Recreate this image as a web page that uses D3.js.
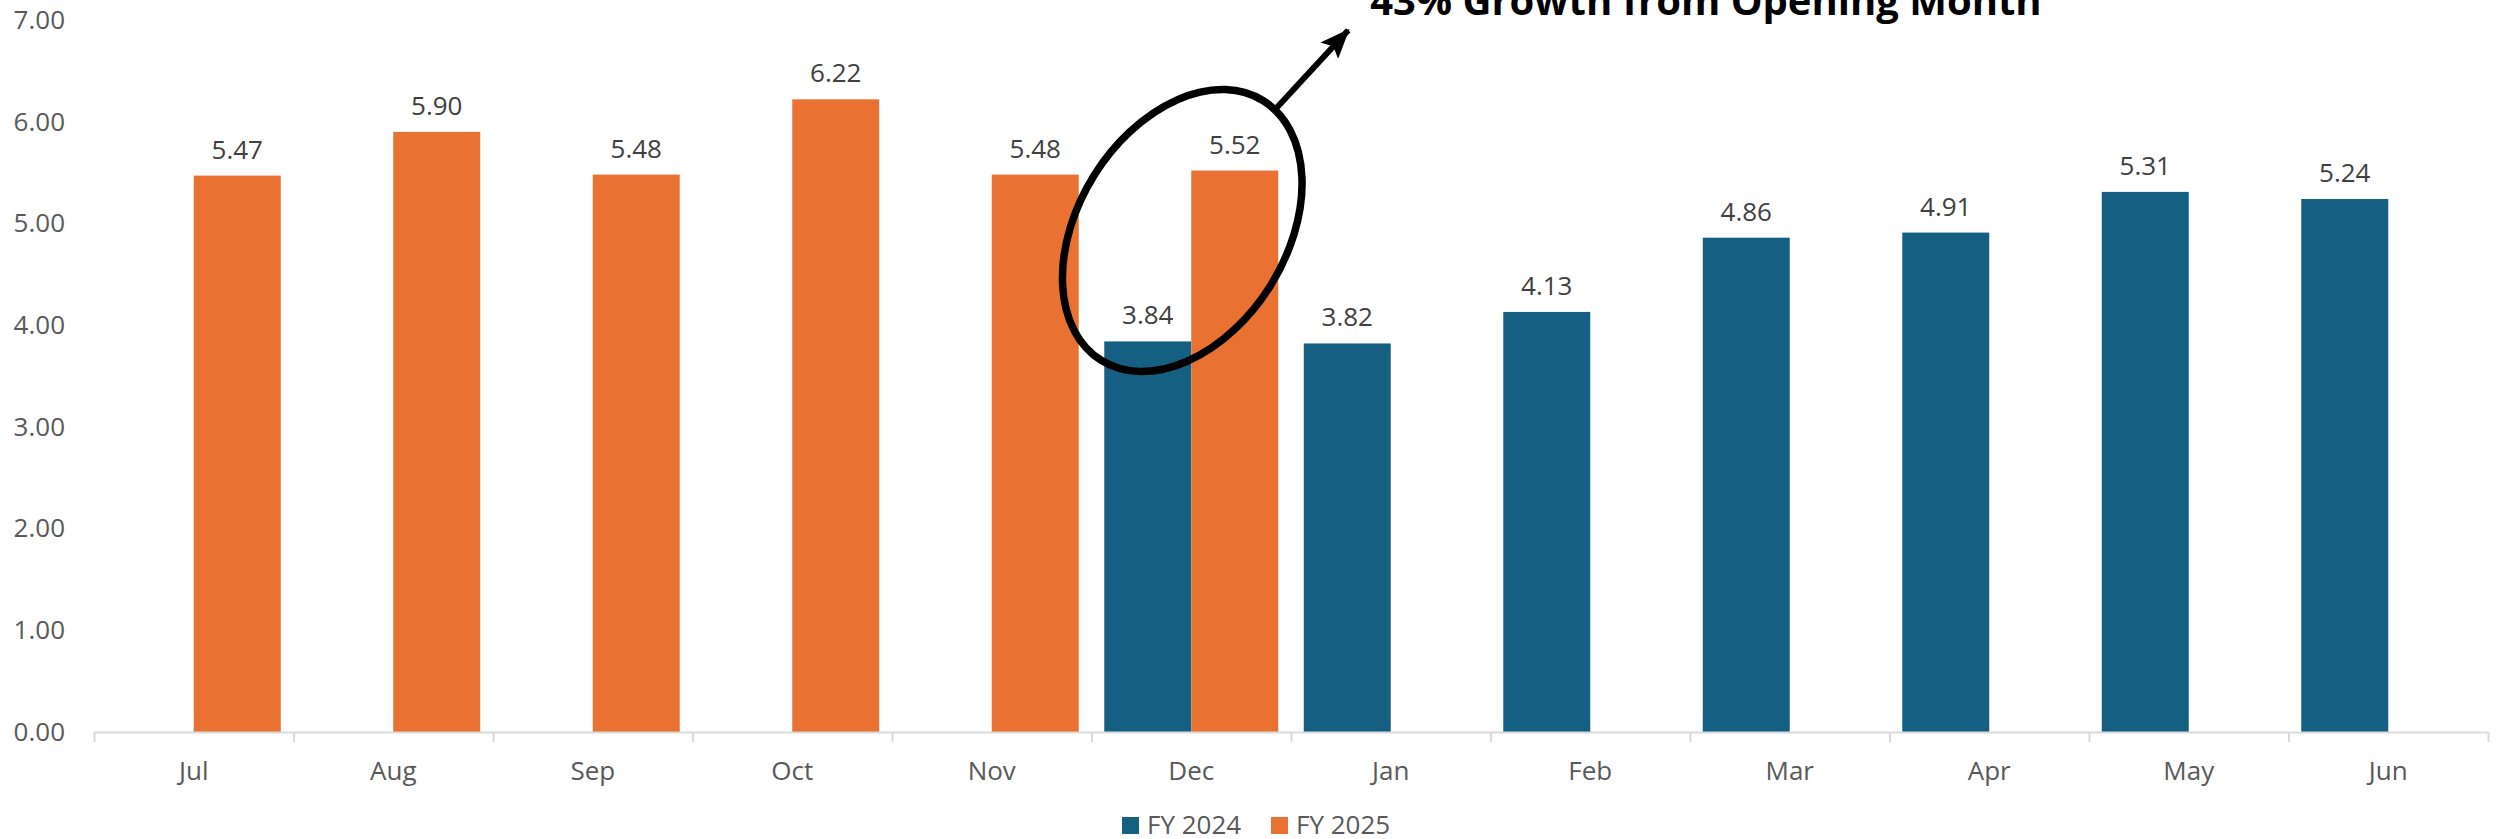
<!DOCTYPE html>
<html>
<head>
<meta charset="utf-8">
<script src="https://cdn.jsdelivr.net/npm/d3@7"></script>
<style>
  html, body { margin: 0; padding: 0; background: #fff; }
  svg { display: block; font-family: "Open Sans", sans-serif; }
</style>
</head>
<body>
<div id="chart"></div>
<script>
(function () {

    var MONTHS  = ["Jul", "Aug", "Sep", "Oct", "Nov", "Dec", "Jan", "Feb", "Mar", "Apr", "May", "Jun"];
    var SERIES  = ["FY 2024", "FY 2025"];
    var FY2024  = [null, null, null, null, null, 3.84, 3.82, 4.13, 4.86, 4.91, 5.31, 5.24];
    var FY2025  = [5.47, 5.90, 5.48, 6.22, 5.48, 5.52, null, null, null, null, null, null];
    var Y_TICKS = [0, 1, 2, 3, 4, 5, 6, 7];
    var NOTE    = "43% Growth from Opening Month";

    var COLORS = { "FY 2024": "#156082", "FY 2025": "#E97132" };
    var TEXT   = "#595959";
    var GRID   = "#D9D9D9";

    var W = 2496, H = 839;
    var margin = { top: 20, right: 8, bottom: 107, left: 94 };
    var iW = W - margin.left - margin.right;
    var iH = H - margin.top - margin.bottom;

    var svg = d3.select("#chart").append("svg")
        .attr("width", W).attr("height", H);
    var g = svg.append("g")
        .attr("transform", "translate(" + margin.left + "," + margin.top + ")");

    /* ── scales ─────────────────────────────────────────────────── */
    var x0 = d3.scaleBand().domain(MONTHS).range([0, iW])
        .paddingInner(0.128).paddingOuter(0.064);
    var x1 = d3.scaleBand().domain(SERIES).range([0, x0.bandwidth()]);
    var xEdge = d3.scaleLinear().domain([0, MONTHS.length]).range([0, iW]);
    var y = d3.scaleLinear().domain([0, 7]).range([iH, 0]);

    var rows = MONTHS.map(function (m, i) {
        return { month: m, "FY 2024": FY2024[i], "FY 2025": FY2025[i] };
    });

    /* ── y axis labels (no line) ────────────────────────────────── */
    var yAxis = g.append("g").attr("class", "axis-y")
        .call(d3.axisLeft(y).tickValues(Y_TICKS).tickSize(0).tickPadding(29)
            .tickFormat(d3.format(".2f")));
    yAxis.select(".domain").remove();
    yAxis.selectAll("text")
        .style("font-family", "'Open Sans', sans-serif")
        .style("font-size", "26px")
        .style("fill", TEXT);

    /* ── bars ───────────────────────────────────────────────────── */
    var groups = g.selectAll(".month").data(rows).enter().append("g")
        .attr("class", "month")
        .attr("transform", function (d) { return "translate(" + x0(d.month) + ",0)"; });

    var cells = groups.selectAll(".cell")
        .data(function (d) {
            return SERIES.map(function (s) { return { key: s, value: d[s] }; })
                .filter(function (c) { return c.value != null; });
        })
        .enter().append("g").attr("class", "cell");

    cells.append("rect")
        .attr("x", function (d) { return x1(d.key); })
        .attr("width", x1.bandwidth())
        .attr("y", function (d) { return y(d.value); })
        .attr("height", function (d) { return iH - y(d.value); })
        .attr("fill", function (d) { return COLORS[d.key]; });

    cells.append("text")
        .attr("x", function (d) { return x1(d.key) + x1.bandwidth() / 2; })
        .attr("y", function (d) { return y(d.value) - 17; })
        .attr("text-anchor", "middle")
        .style("font-size", "26px")
        .style("fill", "#404040")
        .text(function (d) { return d3.format(".2f")(d.value); });

    /* ── x axis ─────────────────────────────────────────────────── */
    var xTicks = g.append("g").attr("class", "axis-x")
        .attr("transform", "translate(0," + iH + ")")
        .call(d3.axisBottom(xEdge).ticks(MONTHS.length).tickSize(10)
            .tickSizeOuter(0).tickFormat(""));
    xTicks.selectAll("path, line")
        .style("stroke", GRID).style("stroke-width", "2px");
    xTicks.selectAll("text").remove();

    var xLabels = g.append("g").attr("class", "axis-x-labels")
        .attr("transform", "translate(0," + iH + ")")
        .call(d3.axisBottom(x0).tickSize(0).tickPadding(30));
    xLabels.select(".domain").remove();
    xLabels.selectAll("text")
        .style("font-family", "'Open Sans', sans-serif")
        .style("font-size", "26px")
        .style("fill", TEXT);

    /* ── annotation: ellipse + arrow + note ─────────────────────── */
    var decX = x0("Dec") + x0.bandwidth() / 2;
    var cx = decX - 9, cy = y(4.93);

    svg.append("defs").append("marker")
        .attr("id", "arrowhead")
        .attr("markerUnits", "userSpaceOnUse")
        .attr("viewBox", "0 0 30 24")
        .attr("refX", 28).attr("refY", 12)
        .attr("markerWidth", 30).attr("markerHeight", 24)
        .attr("orient", "auto")
        .append("path")
        .attr("d", "M0,0 L30,12 L0,24 L6,12 Z")
        .attr("fill", "#000");

    var note = g.append("g").attr("class", "annotation");
    note.append("ellipse")
        .attr("cx", cx).attr("cy", cy)
        .attr("rx", 104).attr("ry", 153)
        .attr("transform", "rotate(32," + cx + "," + cy + ")")
        .attr("fill", "none")
        .attr("stroke", "#000")
        .attr("stroke-width", 7.5);

    note.append("line")
        .attr("x1", cx + 91).attr("y1", y(6.1))
        .attr("x2", cx + 166).attr("y2", y(6.9))
        .attr("stroke", "#000")
        .attr("stroke-width", 6)
        .attr("marker-end", "url(#arrowhead)");

    // the note sits partly above the top edge, as in the source slide
    var label = note.append("text")
        .attr("x", cx + 188).attr("y", y(7.05))
        .style("font-family", "'Open Sans', sans-serif")
        .style("font-weight", "bold")
        .style("font-size", "36px")
        .style("fill", "#000")
        .text(NOTE);
    var len = label.node().getComputedTextLength();
    if (len > 0) label.style("font-size", (36 * 672 / len).toFixed(1) + "px");

    /* ── legend ─────────────────────────────────────────────────── */
    var LEGEND_X = [1122, 1271];
    var legend = svg.append("g").attr("class", "legend")
        .attr("transform", "translate(0," + 817 + ")");
    SERIES.forEach(function (s, i) {
        var lg = legend.append("g").attr("transform", "translate(" + LEGEND_X[i] + ",0)");
        lg.append("rect").attr("width", 17).attr("height", 17).attr("fill", COLORS[s]);
        lg.append("text")
            .attr("x", 25).attr("y", 17)
            .style("font-size", "26px")
            .style("fill", TEXT)
            .text(s);
    });

}());
</script>
</body>
</html>
